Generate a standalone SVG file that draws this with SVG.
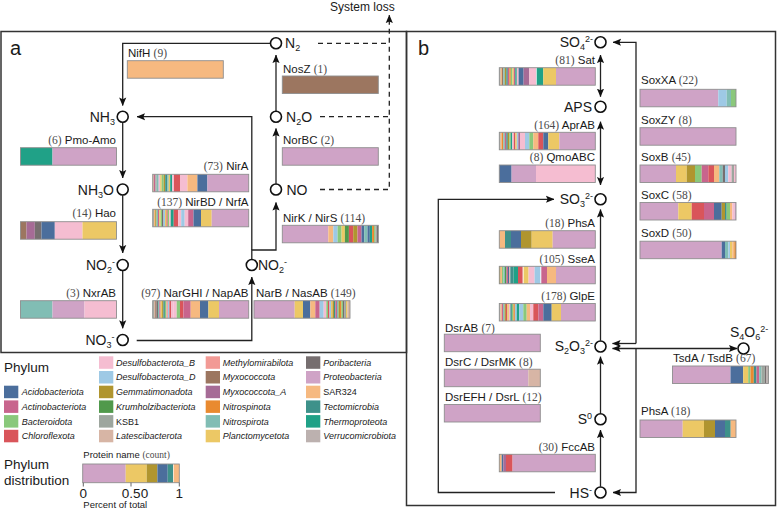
<svg xmlns="http://www.w3.org/2000/svg" width="777" height="509" viewBox="0 0 777 509">
<defs>
<style>
text{font-family:"Liberation Sans",Arial,Helvetica,sans-serif;fill:#1a1a1a}
.pl{font-size:11.5px}
.cn{font-family:"Liberation Serif","Times New Roman",serif;fill:#4a4a4a}
.nl{font-size:14px}
.sb{font-size:9px}
.lg{font-size:9px;font-style:italic}
.lgn{font-size:9px;font-style:normal}
.hd{font-size:13.5px}
.pn{font-size:20px}
.sm{font-size:9.5px}
.nd{fill:#fff;stroke:#111;stroke-width:1.6}
.ln{fill:none;stroke:#222;stroke-width:1.3}
.ds{stroke-dasharray:5 4}
.fr{fill:none;stroke:#333;stroke-width:1.5}
.bo{fill:none;stroke:#8e8e8e;stroke-width:0.9}
.a1{fill:#4b6e9c}.a2{fill:#c8658d}.a3{fill:#8ac87b}.a4{fill:#d9555a}
.b1{fill:#f5bdd1}.b2{fill:#9ec9e5}.b3{fill:#b0952f}.b4{fill:#50994b}.b5{fill:#9da69e}.b6{fill:#d7b5a5}
.c1{fill:#f29a95}.c2{fill:#9c7660}.c3{fill:#a66b96}.c4{fill:#e98a30}.c5{fill:#81bdb4}.c6{fill:#ecc865}
.d1{fill:#766e6f}.d2{fill:#cfa3c6}.d3{fill:#f6b980}.d4{fill:#3e918a}.d5{fill:#20a187}.d6{fill:#bcb1af}
</style>
<marker id="ah" viewBox="0 0 10 10" refX="9.5" refY="5" markerWidth="8.5" markerHeight="8.5" markerUnits="userSpaceOnUse" orient="auto-start-reverse"><path d="M0,0.8 L10,5 L0,9.2 L2,5 Z" fill="#111"/></marker>
</defs>
<rect width="777" height="509" fill="#fff"/>

<!-- frames -->
<g id="frames">
<rect class="fr" x="1" y="31.5" width="405.5" height="321"/>
<rect class="fr" x="406.5" y="31.5" width="369" height="474"/>
<text class="pn" x="10" y="54.5">a</text>
<text class="pn" x="418" y="54.5">b</text>
<text style="font-size:12px" x="330" y="10.5">System loss</text>
</g>

<!-- connectors -->
<g id="connectors">
<path class="ln" d="M270.3,43.3 H122.7 V105.5" marker-end="url(#ah)"/>
<path class="ln" d="M276,111 V55" marker-end="url(#ah)"/>
<path class="ln" d="M276,183.8 V128.5" marker-end="url(#ah)"/>
<path class="ln" d="M122.7,122.4 V178" marker-end="url(#ah)"/>
<path class="ln" d="M122.7,195.2 V253" marker-end="url(#ah)"/>
<path class="ln" d="M122.7,270.7 V328.3" marker-end="url(#ah)"/>
<path class="ln" d="M136.7,340.5 H251.8 V277" marker-end="url(#ah)"/>
<path class="ln" d="M251.8,259.3 V250 H276 V202.5" marker-end="url(#ah)"/>
<path class="ln" d="M251.8,250 V116.7 H137" marker-end="url(#ah)"/>
<path class="ln ds" d="M318,43.3 H389.3"/>
<path class="ln ds" d="M320,116.7 H389.3"/>
<path class="ln ds" d="M320,189.5 H389.3 V15" marker-end="url(#ah)"/>

<path class="ln" d="M600.5,55 V96.7" marker-start="url(#ah)" marker-end="url(#ah)"/>
<path class="ln" d="M600.5,121.7 V185" marker-start="url(#ah)" marker-end="url(#ah)"/>
<path class="ln" d="M600.5,340.7 V209.5" marker-end="url(#ah)"/>
<path class="ln" d="M600.5,413.5 V356.7" marker-end="url(#ah)"/>
<path class="ln" d="M600.5,486.7 V430" marker-end="url(#ah)"/>
<path class="ln" d="M555,492.5 H438.3 V199.3 H554" marker-end="url(#ah)"/>
<path class="ln" d="M636,343.5 H612.5" marker-end="url(#ah)"/>
<path class="ln" d="M636,343.5 V42.3 H613" marker-end="url(#ah)"/>
<path class="ln" d="M612.5,348.5 H737" marker-start="url(#ah)" marker-end="url(#ah)"/>
<path class="ln" d="M636,348.5 V492.5 H613" marker-end="url(#ah)"/>
</g>

<!-- nodes panel a -->
<g id="n-N2"><circle class="nd" cx="276" cy="43.3" r="5.5"/><text class="nl" x="285" y="48">N<tspan class="sb" dy="3">2</tspan></text></g>
<g id="n-NH3"><circle class="nd" cx="122.7" cy="116.7" r="5.5"/><text class="nl" x="115" y="121.5" text-anchor="end">NH<tspan class="sb" dy="3">3</tspan></text></g>
<g id="n-N2O"><circle class="nd" cx="276" cy="116.7" r="5.5"/><text class="nl" x="286" y="121.5">N<tspan class="sb" dy="3">2</tspan><tspan dy="-3">O</tspan></text></g>
<g id="n-NH3O"><circle class="nd" cx="122.7" cy="189.5" r="5.5"/><text class="nl" x="114" y="194.5" text-anchor="end">NH<tspan class="sb" dy="3">3</tspan><tspan dy="-3">O</tspan></text></g>
<g id="n-NO"><circle class="nd" cx="276" cy="189.5" r="5.5"/><text class="nl" x="286.5" y="194.5">NO</text></g>
<g id="n-NO2a"><circle class="nd" cx="122.7" cy="265" r="5.5"/><text class="nl" x="115" y="270" text-anchor="end">NO<tspan class="sb" dy="3">2</tspan><tspan class="sb" dy="-8">-</tspan></text></g>
<g id="n-NO2b"><circle class="nd" cx="251.8" cy="265" r="5.5"/><text class="nl" x="258" y="270">NO<tspan class="sb" dy="3">2</tspan><tspan class="sb" dy="-8">-</tspan></text></g>
<g id="n-NO3"><circle class="nd" cx="122.7" cy="340" r="5.5"/><text class="nl" x="114.5" y="345" text-anchor="end">NO<tspan class="sb" dy="3">3</tspan><tspan class="sb" dy="-8">-</tspan></text></g>

<!-- nodes panel b -->
<g id="n-SO4"><circle class="nd" cx="600.5" cy="42.3" r="5.5"/><text class="nl" x="593" y="47" text-anchor="end">SO<tspan class="sb" dy="3">4</tspan><tspan class="sb" dy="-8">2-</tspan></text></g>
<g id="n-APS"><circle class="nd" cx="600.5" cy="106.7" r="5.5"/><text class="nl" x="592" y="111.7" text-anchor="end">APS</text></g>
<g id="n-SO3"><circle class="nd" cx="600.5" cy="199.3" r="5.5"/><text class="nl" x="593" y="204" text-anchor="end">SO<tspan class="sb" dy="3">3</tspan><tspan class="sb" dy="-8">2-</tspan></text></g>
<g id="n-S2O3"><circle class="nd" cx="600.5" cy="346.5" r="5.5"/><text class="nl" x="593" y="351.3" text-anchor="end">S<tspan class="sb" dy="3">2</tspan><tspan dy="-3">O</tspan><tspan class="sb" dy="3">3</tspan><tspan class="sb" dy="-8">2-</tspan></text></g>
<g id="n-S4O6"><circle class="nd" cx="743.5" cy="348.5" r="5.5"/><text class="nl" x="730" y="337">S<tspan class="sb" dy="3">4</tspan><tspan dy="-3">O</tspan><tspan class="sb" dy="3">6</tspan><tspan class="sb" dy="-8">2-</tspan></text></g>
<g id="n-S0"><circle class="nd" cx="600.5" cy="419.3" r="5.5"/><text class="nl" x="592" y="424.3" text-anchor="end">S<tspan class="sb" dy="-5">0</tspan></text></g>
<g id="n-HS"><circle class="nd" cx="600.5" cy="492.5" r="5.5"/><text class="nl" x="592" y="497.5" text-anchor="end">HS<tspan class="sb" dy="-5">-</tspan></text></g>

<!-- protein bars panel a -->
<g id="p-NifH"><text class="pl" x="128" y="56.5">NifH <tspan class="cn">(9)</tspan></text>
<g transform="translate(127.3,60.7)"><rect class="d3" width="96" height="17.5"/><rect class="bo" width="96" height="17.5"/></g></g>

<g id="p-NosZ"><text class="pl" x="283" y="72.5">NosZ <tspan class="cn">(1)</tspan></text>
<g transform="translate(282.3,76)"><rect class="c2" width="96" height="17.5"/><rect class="bo" width="96" height="17.5"/></g></g>

<g id="p-PmoAmo"><text class="pl" x="116" y="144" text-anchor="end"><tspan class="cn">(6)</tspan> Pmo-Amo</text>
<g transform="translate(20.5,147.7)"><rect class="d5" width="32" height="17.5"/><rect class="d2" x="32" width="64" height="17.5"/><rect class="bo" width="96" height="17.5"/></g></g>

<g id="p-NorBC"><text class="pl" x="283" y="144">NorBC <tspan class="cn">(2)</tspan></text>
<g transform="translate(282.3,147.7)"><rect class="d2" width="96" height="17.5"/><rect class="bo" width="96" height="17.5"/></g></g>

<g id="p-NirA"><text class="pl" x="248.5" y="170" text-anchor="end"><tspan class="cn">(73)</tspan> NirA</text>
<g transform="translate(152.7,174.3)">
<rect class="b6" x="0" width="1.3" height="17.5"/><rect class="a2" x="1.3" width="1.3" height="17.5"/><rect class="b5" x="2.6" width="1.4" height="17.5"/><rect class="c5" x="4" width="2" height="17.5"/><rect class="b1" x="6" width="1.5" height="17.5"/><rect class="c6" x="7.5" width="1.5" height="17.5"/><rect class="a3" x="9" width="2" height="17.5"/><rect class="b3" x="11" width="1.5" height="17.5"/><rect class="d4" x="12.5" width="2" height="17.5"/><rect class="c5" x="14.5" width="1.5" height="17.5"/><rect class="c6" x="16" width="1.5" height="17.5"/><rect class="d5" x="17.5" width="2" height="17.5"/><rect class="b1" x="19.5" width="1.8" height="17.5"/>
<rect class="a4" x="21.3" width="6" height="17.5"/><rect class="b1" x="27.3" width="7.4" height="17.5"/><rect class="d3" x="34.7" width="10" height="17.5"/><rect class="a1" x="44.7" width="10" height="17.5"/><rect class="d2" x="54.7" width="41.3" height="17.5"/>
<rect class="bo" width="96" height="17.5"/></g></g>

<g id="p-NirBD"><text class="pl" x="248.5" y="205.5" text-anchor="end"><tspan class="cn">(137)</tspan> NirBD / NrfA</text>
<g transform="translate(152.7,209.3)">
<rect class="b5" x="0" width="1.2" height="17.5"/><rect class="d3" x="1.2" width="1.3" height="17.5"/><rect class="b3" x="2.5" width="1.3" height="17.5"/><rect class="c5" x="3.8" width="1.5" height="17.5"/><rect class="a2" x="5.3" width="1.2" height="17.5"/><rect class="c6" x="6.5" width="1.5" height="17.5"/><rect class="a3" x="8" width="1.3" height="17.5"/><rect class="d1" x="9.3" width="1.5" height="17.5"/><rect class="b2" x="10.8" width="1.5" height="17.5"/><rect class="c6" x="12.3" width="1.5" height="17.5"/><rect class="a4" x="13.8" width="1.2" height="17.5"/><rect class="a3" x="15" width="1.5" height="17.5"/><rect class="b1" x="16.5" width="1.5" height="17.5"/>
<rect class="d5" x="18" width="3" height="17.5"/><rect class="a4" x="21" width="4.5" height="17.5"/><rect class="b1" x="25.5" width="3" height="17.5"/><rect class="b2" x="28.5" width="3.5" height="17.5"/><rect class="b1" x="32" width="3.5" height="17.5"/><rect class="a2" x="35.5" width="5.3" height="17.5"/><rect class="a1" x="40.8" width="7.5" height="17.5"/><rect class="c6" x="48.3" width="10.7" height="17.5"/><rect class="d2" x="59" width="37" height="17.5"/>
<rect class="bo" width="96" height="17.5"/></g></g>

<g id="p-Hao"><text class="pl" x="116" y="217" text-anchor="end"><tspan class="cn">(14)</tspan> Hao</text>
<g transform="translate(20.5,221.7)"><rect class="c2" width="6" height="17.5"/><rect class="c3" x="6" width="8.3" height="17.5"/><rect class="d1" x="14.3" width="6.7" height="17.5"/><rect class="a1" x="21" width="13.3" height="17.5"/><rect class="b1" x="34.3" width="27.7" height="17.5"/><rect class="c6" x="62" width="34" height="17.5"/><rect class="bo" width="96" height="17.5"/></g></g>

<g id="p-NirK"><text class="pl" x="283" y="222">NirK / NirS <tspan class="cn">(114)</tspan></text>
<g transform="translate(282.3,225.3)">
<rect class="d2" width="46" height="17.5"/><rect class="d3" x="46" width="5" height="17.5"/><rect class="b2" x="51" width="4.3" height="17.5"/><rect class="a3" x="55.3" width="4" height="17.5"/><rect class="c6" x="59.3" width="3.3" height="17.5"/><rect class="b4" x="62.6" width="4" height="17.5"/><rect class="a4" x="66.6" width="4.3" height="17.5"/><rect class="b3" x="70.9" width="4.3" height="17.5"/><rect class="a2" x="75.2" width="4" height="17.5"/><rect class="a1" x="79.2" width="2.7" height="17.5"/><rect class="c5" x="81.9" width="3.3" height="17.5"/><rect class="a1" x="85.2" width="2.3" height="17.5"/><rect class="d5" x="87.5" width="2.3" height="17.5"/><rect class="c4" x="89.8" width="2" height="17.5"/><rect class="a3" x="91.8" width="1.3" height="17.5"/><rect class="b5" x="93.1" width="1.3" height="17.5"/><rect class="d1" x="94.4" width="1.6" height="17.5"/>
<rect class="bo" width="96" height="17.5"/></g></g>

<g id="p-NxrAB"><text class="pl" x="116" y="297" text-anchor="end"><tspan class="cn">(3)</tspan> NxrAB</text>
<g transform="translate(20.5,300.7)"><rect class="c5" width="32" height="17.5"/><rect class="d2" x="32" width="32" height="17.5"/><rect class="b1" x="64" width="32" height="17.5"/><rect class="bo" width="96" height="17.5"/></g></g>

<g id="p-NarGHI"><text class="pl" x="248.5" y="297" text-anchor="end"><tspan class="cn">(97)</tspan> NarGHI / NapAB</text>
<g transform="translate(152.7,300.7)">
<rect class="b5" x="0" width="1.2" height="17.5"/><rect class="b6" x="1.2" width="1.3" height="17.5"/><rect class="c2" x="2.5" width="1.3" height="17.5"/><rect class="d1" x="3.8" width="1.5" height="17.5"/><rect class="c5" x="5.3" width="1.3" height="17.5"/><rect class="a2" x="6.6" width="1.3" height="17.5"/><rect class="c6" x="7.9" width="1.5" height="17.5"/><rect class="b3" x="9.4" width="1.3" height="17.5"/><rect class="d4" x="10.7" width="1.5" height="17.5"/><rect class="a3" x="12.2" width="1.5" height="17.5"/><rect class="c1" x="13.7" width="1.5" height="17.5"/><rect class="b2" x="15.2" width="1.5" height="17.5"/><rect class="a4" x="16.7" width="1.9" height="17.5"/><rect class="b1" x="18.6" width="2" height="17.5"/>
<rect class="b1" x="20.6" width="3.4" height="17.5"/><rect class="a3" x="24" width="3.3" height="17.5"/><rect class="a4" x="27.3" width="3.4" height="17.5"/><rect class="a2" x="30.7" width="7.3" height="17.5"/><rect class="d3" x="38" width="9.3" height="17.5"/><rect class="a1" x="47.3" width="8.4" height="17.5"/><rect class="c6" x="55.7" width="10.6" height="17.5"/><rect class="d2" x="66.3" width="29.7" height="17.5"/>
<rect class="bo" width="96" height="17.5"/></g></g>

<g id="p-NarB"><text class="pl" x="256" y="297">NarB / NasAB <tspan class="cn">(149)</tspan></text>
<g transform="translate(254,300.7)">
<rect class="d2" width="40.7" height="17.5"/><rect class="c6" x="40.7" width="8.3" height="17.5"/><rect class="a1" x="49" width="7.3" height="17.5"/><rect class="d3" x="56.3" width="5" height="17.5"/><rect class="a2" x="61.3" width="4.4" height="17.5"/><rect class="b2" x="65.7" width="4" height="17.5"/><rect class="b1" x="69.7" width="2.6" height="17.5"/>
<rect class="a3" x="72.3" width="1.7" height="17.5"/><rect class="a4" x="74" width="1.5" height="17.5"/><rect class="b2" x="75.5" width="1.5" height="17.5"/><rect class="c6" x="77" width="1.5" height="17.5"/><rect class="b3" x="78.5" width="1.5" height="17.5"/><rect class="d4" x="80" width="1.5" height="17.5"/><rect class="a2" x="81.5" width="1.5" height="17.5"/><rect class="c5" x="83" width="1.5" height="17.5"/><rect class="b3" x="84.5" width="1.5" height="17.5"/><rect class="c4" x="86" width="1.5" height="17.5"/><rect class="a3" x="87.5" width="1.5" height="17.5"/><rect class="d1" x="89" width="1.5" height="17.5"/><rect class="b5" x="90.5" width="1.5" height="17.5"/><rect class="c6" x="92" width="1.5" height="17.5"/><rect class="b6" x="93.5" width="2.5" height="17.5"/>
<rect class="bo" width="96" height="17.5"/></g></g>

<!-- protein bars panel b -->
<g id="p-Sat"><text class="pl" x="595" y="64" text-anchor="end"><tspan class="cn">(81)</tspan> Sat</text>
<g transform="translate(499.3,67.7)">
<rect class="b5" x="0" width="1.3" height="17.5"/><rect class="d3" x="1.3" width="1.3" height="17.5"/><rect class="c2" x="2.6" width="1.4" height="17.5"/><rect class="c5" x="4" width="1.5" height="17.5"/><rect class="b3" x="5.5" width="1.5" height="17.5"/><rect class="d4" x="7" width="1.5" height="17.5"/><rect class="a2" x="8.5" width="1.5" height="17.5"/><rect class="c4" x="10" width="1.5" height="17.5"/><rect class="a3" x="11.5" width="1.5" height="17.5"/><rect class="c6" x="13" width="1.5" height="17.5"/><rect class="a2" x="14.5" width="1.5" height="17.5"/><rect class="d5" x="16" width="1.5" height="17.5"/><rect class="b1" x="17.5" width="1.8" height="17.5"/>
<rect class="a1" x="19.3" width="5" height="17.5"/><rect class="c3" x="24.3" width="5.7" height="17.5"/><rect class="b1" x="30" width="6.7" height="17.5"/><rect class="d5" x="37.4" width="6.6" height="17.5"/><rect class="c6" x="44" width="12.7" height="17.5"/><rect class="d2" x="56.7" width="39.3" height="17.5"/>
<rect class="bo" width="96" height="17.5"/></g></g>

<g id="p-AprAB"><text class="pl" x="595" y="128.5" text-anchor="end"><tspan class="cn">(164)</tspan> AprAB</text>
<g transform="translate(499.3,132.3)">
<rect class="b5" x="0" width="1.3" height="17.5"/><rect class="d3" x="1.3" width="1.3" height="17.5"/><rect class="c4" x="2.6" width="1.4" height="17.5"/><rect class="c5" x="4" width="1.5" height="17.5"/><rect class="a2" x="5.5" width="1.5" height="17.5"/><rect class="d4" x="7" width="1.5" height="17.5"/><rect class="b3" x="8.5" width="1.5" height="17.5"/><rect class="a3" x="10" width="1.5" height="17.5"/><rect class="d5" x="11.5" width="1.5" height="17.5"/><rect class="b1" x="13" width="1.5" height="17.5"/><rect class="a4" x="14.5" width="1.5" height="17.5"/><rect class="c6" x="16" width="1.5" height="17.5"/><rect class="b2" x="17.5" width="1.5" height="17.5"/><rect class="c3" x="19" width="1.7" height="17.5"/>
<rect class="b1" x="20.7" width="5" height="17.5"/><rect class="b2" x="25.7" width="4.3" height="17.5"/><rect class="a3" x="30" width="4" height="17.5"/><rect class="d3" x="34" width="5" height="17.5"/><rect class="a4" x="39" width="5" height="17.5"/><rect class="a1" x="44" width="5" height="17.5"/><rect class="c6" x="49" width="11" height="17.5"/><rect class="d2" x="60" width="36" height="17.5"/>
<rect class="bo" width="96" height="17.5"/></g></g>

<g id="p-QmoABC"><text class="pl" x="595" y="161" text-anchor="end"><tspan class="cn">(8)</tspan> QmoABC</text>
<g transform="translate(499.3,165)"><rect class="a1" width="12.3" height="17.5"/><rect class="d2" x="12.3" width="24.4" height="17.5"/><rect class="b1" x="36.7" width="59.3" height="17.5"/><rect class="bo" width="96" height="17.5"/></g></g>

<g id="p-PhsA1"><text class="pl" x="595" y="227" text-anchor="end"><tspan class="cn">(18)</tspan> PhsA</text>
<g transform="translate(499.3,230.7)"><rect class="d3" width="5.7" height="17.5"/><rect class="d4" x="5.7" width="6" height="17.5"/><rect class="a1" x="11.7" width="10" height="17.5"/><rect class="b3" x="21.7" width="10.7" height="17.5"/><rect class="c6" x="32.4" width="21" height="17.5"/><rect class="d2" x="53.4" width="42.6" height="17.5"/><rect class="bo" width="96" height="17.5"/></g></g>

<g id="p-SseA"><text class="pl" x="595" y="263" text-anchor="end"><tspan class="cn">(105)</tspan> SseA</text>
<g transform="translate(499.3,266.3)">
<rect class="b3" x="0" width="1.3" height="17.5"/><rect class="d3" x="1.3" width="1.4" height="17.5"/><rect class="a3" x="2.7" width="1.5" height="17.5"/><rect class="c5" x="4.2" width="1.5" height="17.5"/><rect class="b4" x="5.7" width="1.5" height="17.5"/><rect class="a2" x="7.2" width="1.5" height="17.5"/><rect class="a1" x="8.7" width="1.3" height="17.5"/><rect class="b6" x="10" width="1" height="17.5"/>
<rect class="d4" x="11" width="3.3" height="17.5"/><rect class="d5" x="14.3" width="4.4" height="17.5"/><rect class="a4" x="18.7" width="4.6" height="17.5"/><rect class="c6" x="24.3" width="5" height="17.5"/><rect class="b1" x="29.3" width="6" height="17.5"/><rect class="b2" x="35.3" width="5.7" height="17.5"/><rect class="a2" x="42" width="5.7" height="17.5"/><rect class="d3" x="47.7" width="9" height="17.5"/><rect class="d2" x="56.7" width="39.3" height="17.5"/>
<rect class="bo" width="96" height="17.5"/></g></g>

<g id="p-GlpE"><text class="pl" x="595" y="300" text-anchor="end"><tspan class="cn">(178)</tspan> GlpE</text>
<g transform="translate(499.3,303.5)">
<rect class="b5" x="0" width="1.2" height="17.5"/><rect class="d3" x="1.2" width="1.3" height="17.5"/><rect class="a2" x="2.5" width="1.3" height="17.5"/><rect class="c5" x="3.8" width="1.5" height="17.5"/><rect class="b3" x="5.3" width="1.3" height="17.5"/><rect class="a4" x="6.6" width="1.5" height="17.5"/><rect class="c6" x="8.1" width="1.5" height="17.5"/><rect class="b1" x="9.6" width="1.5" height="17.5"/><rect class="d4" x="11.1" width="1.5" height="17.5"/><rect class="a3" x="12.6" width="1.5" height="17.5"/><rect class="c4" x="14.1" width="1.5" height="17.5"/><rect class="b2" x="15.6" width="1.8" height="17.5"/>
<rect class="d5" x="17.4" width="2.6" height="17.5"/><rect class="b2" x="20" width="4" height="17.5"/><rect class="a3" x="24" width="3.4" height="17.5"/><rect class="d3" x="27.4" width="3.3" height="17.5"/><rect class="b1" x="30.7" width="3.3" height="17.5"/><rect class="a4" x="34" width="5" height="17.5"/><rect class="a2" x="39" width="5" height="17.5"/><rect class="a1" x="44" width="8.4" height="17.5"/><rect class="c6" x="52.4" width="9.3" height="17.5"/><rect class="d2" x="61.7" width="34.3" height="17.5"/>
<rect class="bo" width="96" height="17.5"/></g></g>

<g id="p-DsrAB"><text class="pl" x="445" y="331.5">DsrAB <tspan class="cn">(7)</tspan></text>
<g transform="translate(444.3,334.2)"><rect class="d2" width="96" height="17.5"/><rect class="bo" width="96" height="17.5"/></g></g>

<g id="p-DsrC"><text class="pl" x="445" y="365.5">DsrC / DsrMK <tspan class="cn">(8)</tspan></text>
<g transform="translate(444.3,369.2)"><rect class="d2" width="84" height="17.5"/><rect class="b6" x="84" width="12" height="17.5"/><rect class="bo" width="96" height="17.5"/></g></g>

<g id="p-DsrEFH"><text class="pl" x="445" y="401">DsrEFH / DsrL <tspan class="cn">(12)</tspan></text>
<g transform="translate(444.3,404.5)"><rect class="d2" width="96" height="17.5"/><rect class="bo" width="96" height="17.5"/></g></g>

<g id="p-FccAB"><text class="pl" x="595" y="451" text-anchor="end"><tspan class="cn">(30)</tspan> FccAB</text>
<g transform="translate(499.3,454.3)"><rect class="d3" width="2.4" height="17.5"/><rect class="a1" x="2.4" width="1.6" height="17.5"/><rect class="c3" x="4" width="2.7" height="17.5"/><rect class="a4" x="6.7" width="6.6" height="17.5"/><rect class="d2" x="13.3" width="82.7" height="17.5"/><rect class="bo" width="96" height="17.5"/></g></g>

<g id="p-SoxXA"><text class="pl" x="641" y="83.5">SoxXA <tspan class="cn">(22)</tspan></text>
<g transform="translate(640,89.3)"><rect class="d2" width="78.3" height="17.5"/><rect class="b2" x="78.3" width="8.4" height="17.5"/><rect class="c5" x="86.7" width="4.3" height="17.5"/><rect class="a3" x="91" width="5" height="17.5"/><rect class="bo" width="96" height="17.5"/></g></g>

<g id="p-SoxZY"><text class="pl" x="641" y="123.5">SoxZY <tspan class="cn">(8)</tspan></text>
<g transform="translate(640,127.7)"><rect class="d2" width="96" height="17.5"/><rect class="bo" width="96" height="17.5"/></g></g>

<g id="p-SoxB"><text class="pl" x="641" y="161">SoxB <tspan class="cn">(45)</tspan></text>
<g transform="translate(640,165)"><rect class="d2" width="36" height="17.5"/><rect class="c6" x="36" width="10.7" height="17.5"/><rect class="b3" x="46.7" width="8.3" height="17.5"/><rect class="a3" x="55" width="6.7" height="17.5"/><rect class="a2" x="61.7" width="6.6" height="17.5"/><rect class="a4" x="68.3" width="5.7" height="17.5"/><rect class="d3" x="74" width="5.3" height="17.5"/><rect class="c5" x="79.3" width="3.4" height="17.5"/><rect class="d1" x="82.7" width="2.3" height="17.5"/><rect class="b2" x="85" width="3.3" height="17.5"/><rect class="b1" x="88.3" width="3.3" height="17.5"/><rect class="b5" x="91.6" width="2.4" height="17.5"/><rect class="b1" x="94" width="2" height="17.5"/><rect class="bo" width="96" height="17.5"/></g></g>

<g id="p-SoxC"><text class="pl" x="641" y="198.5">SoxC <tspan class="cn">(58)</tspan></text>
<g transform="translate(640,202.5)"><rect class="d2" width="38.3" height="17.5"/><rect class="c6" x="38.3" width="13.4" height="17.5"/><rect class="a4" x="51.7" width="12.3" height="17.5"/><rect class="a2" x="64" width="10" height="17.5"/><rect class="a1" x="74" width="7.7" height="17.5"/><rect class="b3" x="81.7" width="3.3" height="17.5"/><rect class="d4" x="85" width="1.7" height="17.5"/><rect class="a3" x="86.7" width="3.3" height="17.5"/><rect class="d3" x="90" width="2.3" height="17.5"/><rect class="b1" x="92.3" width="2.3" height="17.5"/><rect class="d2" x="94.6" width="1.4" height="17.5"/><rect class="bo" width="96" height="17.5"/></g></g>

<g id="p-SoxD"><text class="pl" x="641" y="237">SoxD <tspan class="cn">(50)</tspan></text>
<g transform="translate(640,241.2)"><rect class="d2" width="81.7" height="17.5"/><rect class="a1" x="81.7" width="3.3" height="17.5"/><rect class="c5" x="85" width="3.3" height="17.5"/><rect class="b2" x="88.3" width="1.7" height="17.5"/><rect class="c6" x="90" width="2.3" height="17.5"/><rect class="d3" x="92.3" width="2" height="17.5"/><rect class="c4" x="94.3" width="1.7" height="17.5"/><rect class="bo" width="96" height="17.5"/></g></g>

<g id="p-TsdA"><text class="pl" x="673" y="362">TsdA / TsdB <tspan class="cn">(67)</tspan></text>
<g transform="translate(672.5,366)"><rect class="d2" width="58" height="17.5"/><rect class="a1" x="58" width="12.7" height="17.5"/><rect class="c6" x="70.7" width="5" height="17.5"/><rect class="a3" x="75.7" width="2.3" height="17.5"/><rect class="c4" x="78" width="3.3" height="17.5"/><rect class="d4" x="81.3" width="2.7" height="17.5"/><rect class="a2" x="84" width="2.7" height="17.5"/><rect class="c5" x="86.7" width="2.3" height="17.5"/><rect class="b5" x="89" width="3.3" height="17.5"/><rect class="d1" x="92.3" width="1.7" height="17.5"/><rect class="d6" x="94" width="2" height="17.5"/><rect class="bo" width="96" height="17.5"/></g></g>

<g id="p-PhsA2"><text class="pl" x="641" y="415">PhsA <tspan class="cn">(18)</tspan></text>
<g transform="translate(640,420)"><rect class="d2" width="42.7" height="17.5"/><rect class="c6" x="42.7" width="21.3" height="17.5"/><rect class="b3" x="64" width="11" height="17.5"/><rect class="a1" x="75" width="10" height="17.5"/><rect class="d4" x="85" width="5.7" height="17.5"/><rect class="d3" x="90.7" width="5.3" height="17.5"/><rect class="bo" width="96" height="17.5"/></g></g>

<!-- legend -->
<g id="legend">
<text class="hd" x="4" y="371.5">Phylum</text>
<g class="lg">
<rect class="a1" x="4" y="385.7" width="14.3" height="12.5"/><text class="lg" x="21.7" y="395.1">Acidobacteriota</text>
<rect class="a2" x="4" y="400.4" width="14.3" height="12.5"/><text class="lg" x="21.7" y="409.8">Actinobacteriota</text>
<rect class="a3" x="4" y="415.1" width="14.3" height="12.5"/><text class="lg" x="21.7" y="424.5">Bacteroidota</text>
<rect class="a4" x="4" y="429.8" width="14.3" height="12.5"/><text class="lg" x="21.7" y="439.2">Chloroflexota</text>

<rect class="b1" x="99" y="356.3" width="14.3" height="12.5"/><text class="lg" x="116" y="365.7">Desulfobacterota_B</text>
<rect class="b2" x="99" y="371" width="14.3" height="12.5"/><text class="lg" x="116" y="380.4">Desulfobacterota_D</text>
<rect class="b3" x="99" y="385.7" width="14.3" height="12.5"/><text class="lg" x="116" y="395.1">Gemmatimonadota</text>
<rect class="b4" x="99" y="400.4" width="14.3" height="12.5"/><text class="lg" x="116" y="409.8">Krumholzibacteriota</text>
<rect class="b5" x="99" y="415.1" width="14.3" height="12.5"/><text class="lgn" x="116" y="424.5">KSB1</text>
<rect class="b6" x="99" y="429.8" width="14.3" height="12.5"/><text class="lg" x="116" y="439.2">Latescibacterota</text>

<rect class="c1" x="205.7" y="356.3" width="14.3" height="12.5"/><text class="lg" x="222.7" y="365.7">Methylomirabilota</text>
<rect class="c2" x="205.7" y="371" width="14.3" height="12.5"/><text class="lg" x="222.7" y="380.4">Myxococcota</text>
<rect class="c3" x="205.7" y="385.7" width="14.3" height="12.5"/><text class="lg" x="222.7" y="395.1">Myxococcota_A</text>
<rect class="c4" x="205.7" y="400.4" width="14.3" height="12.5"/><text class="lg" x="222.7" y="409.8">Nitrospinota</text>
<rect class="c5" x="205.7" y="415.1" width="14.3" height="12.5"/><text class="lg" x="222.7" y="424.5">Nitrospirota</text>
<rect class="c6" x="205.7" y="429.8" width="14.3" height="12.5"/><text class="lg" x="222.7" y="439.2">Planctomycetota</text>

<rect class="d1" x="306" y="356.3" width="14.3" height="12.5"/><text class="lg" x="323.3" y="365.7">Poribacteria</text>
<rect class="d2" x="306" y="371" width="14.3" height="12.5"/><text class="lg" x="323.3" y="380.4">Proteobacteria</text>
<rect class="d3" x="306" y="385.7" width="14.3" height="12.5"/><text class="lgn" x="323.3" y="395.1">SAR324</text>
<rect class="d4" x="306" y="400.4" width="14.3" height="12.5"/><text class="lg" x="323.3" y="409.8">Tectomicrobia</text>
<rect class="d5" x="306" y="415.1" width="14.3" height="12.5"/><text class="lg" x="323.3" y="424.5">Thermoproteota</text>
<rect class="d6" x="306" y="429.8" width="14.3" height="12.5"/><text class="lg" x="323.3" y="439.2">Verrucomicrobiota</text>
</g>
<text class="hd" x="4" y="469">Phylum</text>
<text class="hd" x="4" y="485">distribution</text>
<text class="sm" x="83.3" y="458.3">Protein name <tspan class="cn">(count)</tspan></text>
<g transform="translate(82.7,464)"><rect class="d2" width="43" height="18.7"/><rect class="c6" x="43" width="21" height="18.7"/><rect class="b3" x="64" width="10.7" height="18.7"/><rect class="a1" x="74.7" width="10.3" height="18.7"/><rect class="d4" x="85" width="5.3" height="18.7"/><rect fill="#f7e3cf" x="90.3" width="1" height="18.7"/><rect class="d3" x="91.3" width="5.3" height="18.7"/><rect class="bo" width="96.6" height="18.7"/></g>
<path d="M83.3,482.7 V486.5 M131,482.7 V486.5 M179.3,482.7 V486.5" stroke="#555" stroke-width="0.9"/>
<text class="hd" x="83.3" y="497.5" text-anchor="middle">0</text>
<text class="hd" x="135" y="497.5" text-anchor="middle">0.50</text>
<text class="hd" x="179.3" y="497.5" text-anchor="middle">1</text>
<text class="sm" x="83.3" y="508">Percent of total</text>
</g>
</svg>
